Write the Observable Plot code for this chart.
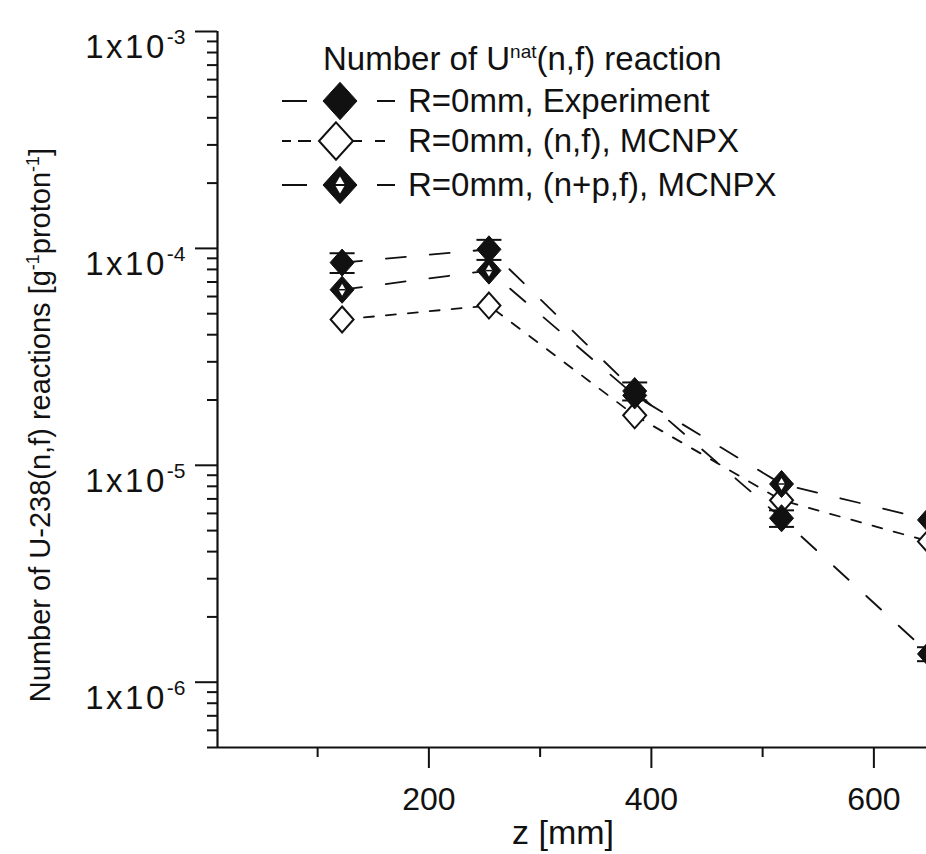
<!DOCTYPE html>
<html>
<head>
<meta charset="utf-8">
<script src="https://cdn.jsdelivr.net/npm/d3@7"></script>
<script src="https://cdn.jsdelivr.net/npm/@observablehq/plot@0.6"></script>
<style>
html, body { margin: 0; padding: 0; background: #fff; overflow: hidden; }
#chart svg { display: block; }
</style>
</head>
<body>
<div id="chart"></div>
<script>
// ---- data ----
const zPositions = [122, 254, 385, 517, 650];          // z [mm]
const experiment = [8.6e-5, 9.9e-5, 2.2e-5, 5.7e-6, 1.35e-6];
const experimentErr = [9e-6, 1.05e-5, 2.1e-6, 5e-7, 1.0e-7];
const mcnpxNF = [4.7e-5, 5.45e-5, 1.7e-5, 6.9e-6, 4.45e-6];
const mcnpxNPF = [6.45e-5, 7.9e-5, 2.1e-5, 8.2e-6, 5.6e-6];
const seriesNames = ["R=0mm, Experiment", "R=0mm, (n,f), MCNPX", "R=0mm, (n+p,f), MCNPX"];
const legendTitleParts = ["Number of U", "nat", "(n,f) reaction"];
const yLabelParts = ["Number of U-238(n,f) reactions [g", "-1", "proton", "-1", "]"];
const xLabel = "z [mm]";
const xDomain = [10, 650];
const yDomain = [5e-7, 1e-3];
const xMajorTicks = [200, 400, 600];
const xMinorTicks = [100, 300, 500];
const yMajorTicks = [1e-3, 1e-4, 1e-5, 1e-6];
const yMajorLabels = ["1x10^-3", "1x10^-4", "1x10^-5", "1x10^-6"];
const yMinorTicks = [];
for (let e = -7; e <= -4; e++) for (let m = 2; m <= 9; m++) {
  const v = m * Math.pow(10, e);
  if (v >= 4.99e-7 && v < 1e-3) yMinorTicks.push(v);
}

const expRows = zPositions.map((z, i) => ({z, v: experiment[i], lo: experiment[i] - experimentErr[i], hi: experiment[i] + experimentErr[i]}));
const nfRows = zPositions.map((z, i) => ({z, v: mcnpxNF[i]}));
const npfRows = zPositions.map((z, i) => ({z, v: mcnpxNPF[i]}));

// ---- symbols ----
function diamondSym(aspect) {
  return {draw(ctx, size) {
    const r = Math.sqrt(size / Math.PI), h = r * aspect;
    ctx.moveTo(0, -h); ctx.lineTo(r, 0); ctx.lineTo(0, h); ctx.lineTo(-r, 0); ctx.closePath();
  }};
}
const capSym = {draw(ctx, size) {
  const r = Math.sqrt(size / Math.PI);
  ctx.moveTo(-r, 0); ctx.lineTo(r, 0);
}};
const bigDiamond = diamondSym(1.13);
const innerDiamond = diamondSym(1.7);

const FONT = "'Liberation Sans', Arial, sans-serif";
const INK = "#111";

const plot = Plot.plot({
  width: 926,
  height: 854,
  marginLeft: 217,
  marginTop: 31,
  marginBottom: 107,
  marginRight: 0,
  style: {fontFamily: FONT, fontSize: "32px", color: INK, background: "#fff"},
  x: {domain: xDomain, range: [217, 929]},
  y: {type: "log", domain: yDomain},
  marks: [
    Plot.axisY({ticks: yMinorTicks, tickSize: 10, tickFormat: () => "", strokeWidth: 2, label: null}),
    Plot.axisY({ticks: yMajorTicks, tickSize: 22, tickPadding: 10, strokeWidth: 2, label: null,
      tickFormat: d => yMajorLabels[yMajorTicks.indexOf(d)]}),
    Plot.axisX({ticks: xMinorTicks, tickSize: 10, tickFormat: () => "", strokeWidth: 2, label: null}),
    Plot.axisX({ticks: xMajorTicks, tickSize: 21, tickPadding: 19, strokeWidth: 2, label: null, tickFormat: d => String(d)}),
    Plot.ruleX([xDomain[0]], {stroke: INK, strokeWidth: 2.2}),
    Plot.ruleY([yDomain[0]], {stroke: INK, strokeWidth: 2.2}),
    // lines
    Plot.line(nfRows, {x: "z", y: "v", stroke: INK, strokeWidth: 1.8, strokeDasharray: "10,12"}),
    Plot.line(npfRows, {x: "z", y: "v", stroke: INK, strokeWidth: 1.8, strokeDasharray: "20,24"}),
    Plot.line(expRows, {x: "z", y: "v", stroke: INK, strokeWidth: 1.8, strokeDasharray: "20,24"}),
    // (n,f) MCNPX open diamonds
    Plot.dot(nfRows, {x: "z", y: "v", symbol: bigDiamond, r: 11.5, fill: "#fff", stroke: INK, strokeWidth: 2}),
    // (n+p,f) MCNPX filled diamonds with a small white core
    Plot.dot(npfRows, {x: "z", y: "v", symbol: bigDiamond, r: 12, fill: INK, stroke: INK, strokeWidth: 1}),
    Plot.dot(npfRows, {x: "z", y: "v", symbol: innerDiamond, r: 3.5, fill: "#fff", stroke: "none"}),
    Plot.dot(npfRows, {x: "z", y: "v", symbol: capSym, r: 3.5, stroke: INK, strokeWidth: 1.5}),
    // experiment with error bars
    Plot.ruleX(expRows, {x: "z", y1: "lo", y2: "hi", stroke: INK, strokeWidth: 1.8}),
    Plot.dot(expRows, {x: "z", y: "v", symbol: bigDiamond, r: 12, fill: INK, stroke: INK, strokeWidth: 1}),
    Plot.dot(expRows, {x: "z", y: "lo", symbol: capSym, r: 12.5, stroke: INK, strokeWidth: 2}),
    Plot.dot(expRows, {x: "z", y: "hi", symbol: capSym, r: 12.5, stroke: INK, strokeWidth: 2})
  ]
});

document.getElementById("chart").appendChild(plot);
const svg = d3.select(plot);

// superscripted y tick labels
svg.selectAll('g[aria-label="y-axis tick label"] text').each(function() {
  const t = d3.select(this);
  const s = t.text();
  if (!s.includes("^")) return;
  const [base, sup] = s.split("^");
  t.text(null).attr("dy", "0.48em").attr("font-size", 33);
  t.append("tspan").attr("letter-spacing", 2.5).text(base);
  t.append("tspan").attr("dy", -14).attr("font-size", 21).text(sup);
});

// y axis title
const yl = svg.append("text")
  .attr("transform", "translate(50,425) rotate(-90)")
  .attr("text-anchor", "middle")
  .attr("font-family", FONT).attr("font-size", 29).attr("fill", INK);
yl.append("tspan").text(yLabelParts[0]);
yl.append("tspan").attr("dy", -11).attr("font-size", 18).text(yLabelParts[1]);
yl.append("tspan").attr("dy", 11).text(yLabelParts[2]);
yl.append("tspan").attr("dy", -11).attr("font-size", 18).text(yLabelParts[3]);
yl.append("tspan").attr("dy", 11).text(yLabelParts[4]);

// x axis title
svg.append("text")
  .attr("x", 563).attr("y", 844)
  .attr("text-anchor", "middle")
  .attr("font-family", FONT).attr("font-size", 34).attr("fill", INK)
  .text(xLabel);

// legend
const lg = svg.append("g").attr("font-family", FONT).attr("fill", INK).attr("text-anchor", "start");
const lt = lg.append("text").attr("x", 323).attr("y", 70).attr("font-size", 33).attr("text-anchor", "start");
lt.append("tspan").text(legendTitleParts[0]);
lt.append("tspan").attr("dy", -12).attr("font-size", 19).text(legendTitleParts[1]);
lt.append("tspan").attr("dy", 12).text(legendTitleParts[2]);

const legendRows = [
  {y: 101, text: seriesNames[0], segs: [[282, 307], [377, 395]], kind: "exp"},
  {y: 141, text: seriesNames[1], segs: [[282, 291], [298, 311], [353, 362], [375, 385]], kind: "nf"},
  {y: 185, text: seriesNames[2], segs: [[282, 307], [377, 395]], kind: "npf"}
];
const bigLeg = d3.symbol(diamondSym(1.1), 17 * 17 * Math.PI)();
const innerLeg = d3.symbol(diamondSym(1.7), 5 * 5 * Math.PI)();
for (const row of legendRows) {
  for (const [a, b] of row.segs) {
    lg.append("line").attr("x1", a).attr("x2", b).attr("y1", row.y).attr("y2", row.y)
      .attr("stroke", INK).attr("stroke-width", 2);
  }
  const g = lg.append("g").attr("transform", `translate(${row.kind === "nf" ? 336 : 340},${row.y})`);
  if (row.kind === "nf") {
    g.append("path").attr("d", bigLeg).attr("fill", "#fff").attr("stroke", INK).attr("stroke-width", 2);
  } else {
    g.append("path").attr("d", bigLeg).attr("fill", INK).attr("stroke", INK).attr("stroke-width", 1);
    if (row.kind === "npf") {
      g.append("path").attr("d", innerLeg).attr("fill", "#fff");
      g.append("line").attr("x1", -5).attr("x2", 5).attr("stroke", INK).attr("stroke-width", 2);
    }
  }
  lg.append("text").attr("x", 408).attr("y", row.y + 11).attr("font-size", 33)
    .attr("text-anchor", "start").text(row.text);
}
</script>
</body>
</html>
